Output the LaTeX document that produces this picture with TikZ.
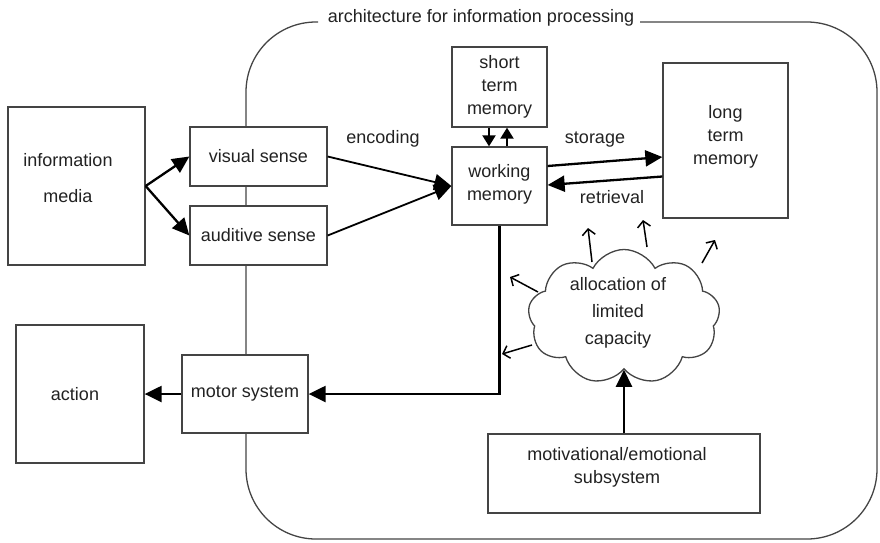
\documentclass[tikz,border=0pt]{standalone}
\usepackage{fontspec}
\setmainfont{Liberation Sans}
\usetikzlibrary{arrows.meta,shapes.symbols,calc}
\definecolor{ink}{HTML}{222222}
\definecolor{edge}{HTML}{444444}
\begin{document}
\begin{tikzpicture}[x=1pt,y=-1pt,
  box/.style={draw=edge,line width=1.3pt,fill=white,align=center,text=ink,
    font=\fontsize{18}{23}\selectfont,inner sep=0pt},
  lbl/.style={text=ink,font=\fontsize{18}{23}\selectfont,inner sep=1pt,align=center},
  big/.style={line width=2.3pt,-{Triangle[length=17pt,width=16pt]}},
  mid/.style={line width=1.8pt,-{Triangle[length=17pt,width=16pt]}},
  sml/.style={line width=2pt,-{Triangle[length=11pt,width=13pt]}},
  thin/.style={line width=1.5pt,-{Straight Barb[length=6pt,width=13pt]}}]
\useasboundingbox (0,0) rectangle (880,542);
% frame
\draw[edge,line width=1.3pt,rounded corners=70pt]
  (640,22) -- (877,22) -- (877,539) -- (246,539) -- (246,22) -- (318,22);
\node[lbl] (title) at (481,18) {architecture for information processing};
% boxes
\node[box,minimum width=137pt,minimum height=158pt] (media) at (76.5,186) {};
\node[lbl] (mediatext) at (68,178) {information\\[13pt]media};
\node[box,minimum width=137pt,minimum height=59pt] (visual) at (258.5,156.5) {visual sense};
\node[box,minimum width=137pt,minimum height=59pt] (auditive) at (258.5,235.5) {auditive sense};
\node[box,minimum width=128pt,minimum height=138pt] (action) at (80,394) {action\hspace*{10pt}};
\node[box,minimum width=126pt,minimum height=78pt] (motor) at (245,394) {motor system};
\node[box,minimum width=95pt,minimum height=80pt] (stm) at (499.5,87) {short\\term\\memory};
\node[box,minimum width=95pt,minimum height=78pt] (wm) at (499.5,186) {working\\memory\\[-16pt]\mbox{}};
\node[box,minimum width=125pt,minimum height=155pt] (ltm) at (725.5,140.5) {long\\term\\memory\\[-12pt]\mbox{}};
\node[box,minimum width=272pt,minimum height=79pt] (motiv) at (624,473.5) {};
\node[lbl] (motivtext) at (617,467) {motivational/emotional\\subsystem};
\node[cloud,draw=edge,line width=1.3pt,fill=white,cloud puffs=9,cloud puff arc=125,aspect=1.4,
  minimum width=192pt,minimum height=135pt,inner sep=0pt] (cloud) at (624,317) {};
\node[lbl,font=\fontsize{18}{27}\selectfont] (cloudtext) at (618,313) {allocation of\\limited\\capacity};
% arrows
\draw[big] (media.east) -- (visual.west);
\draw[big] (media.east) -- (auditive.west);
\draw[mid] (visual.east) -- (wm.west);
\draw[mid] (auditive.east) -- (wm.west);
\node[lbl] (enc) at (383,139) {encoding};
\draw[sml] ($(stm.south)+(-10.5,0)$) -- ($(wm.north)+(-10.5,0)$);
\draw[sml] ($(wm.north)+(7.5,0)$) -- ($(stm.south)+(7.5,0)$);
\draw[big] ($(wm.east)+(0,-20)$) -- ($(ltm.west)+(0,16.5)$);
\node[lbl] (stor) at (595,140) {storage};
\draw[big] ($(ltm.west)+(0,36)$) -- ($(wm.east)+(0,-1)$);
\node[lbl] (retr) at (612,197) {retrieval};
\draw[big] (wm.south) |- (motor.east);
\draw[big] (motor.west) -- (action.east);
\draw[big] (motiv.north) -- (motiv.north |- cloud.south);
% capacity arrows
\coordinate (e1) at ($(cloud.center)+(-36,-89)$);
\coordinate (e2) at ($(cloud.center)+(19,-97)$);
\coordinate (e3) at ($(cloud.center)+(91,-77)$);
\coordinate (e4) at ($(cloud.center)+(-114,-40)$);
\coordinate (e5) at ($(cloud.center)+(-122,37)$);
\draw[thin] ($(cloud.center)+(-32,-55)$) -- (e1);
\draw[thin] ($(cloud.center)+(23,-70)$) -- (e2);
\draw[thin] ($(cloud.center)+(78,-54)$) -- (e3);
\draw[thin] ($(cloud.center)+(-86,-25)$) -- (e4);
\draw[thin] ($(cloud.center)+(-92,28)$) -- (e5);
\end{tikzpicture}
\end{document}
